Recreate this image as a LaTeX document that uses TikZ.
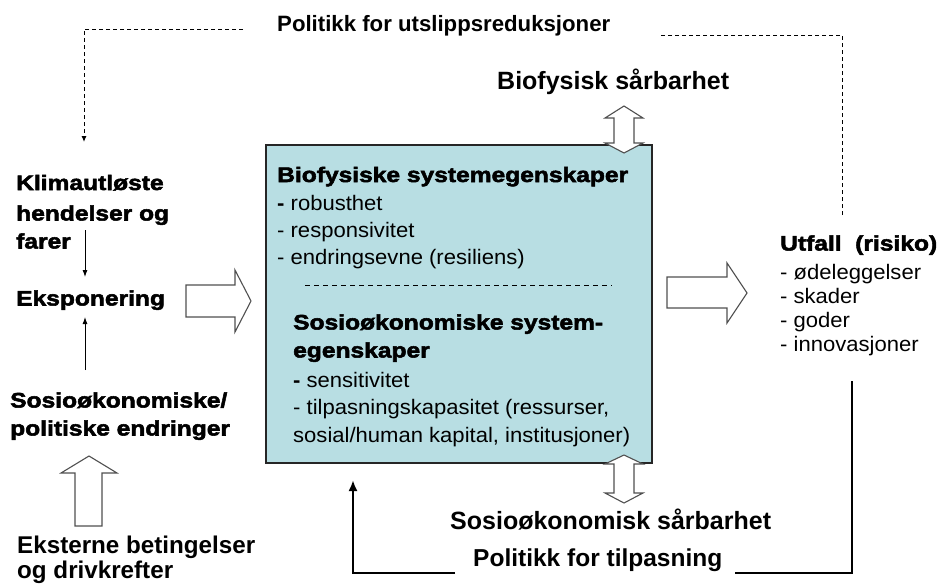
\documentclass[tikz,border=0pt]{standalone}
\usepackage{fontspec}
\setmainfont{Liberation Sans}
\newfontfamily\heavyfont{Liberation Sans}[UprightFont={* Bold},FakeStretch=1.17,FakeBold=2.5]
\newfontfamily\boldfont{Liberation Sans}[UprightFont={* Bold}]
\newfontfamily\bodyfont{Liberation Sans}[FakeStretch=1.05]
\usetikzlibrary{arrows.meta}
\definecolor{boxfill}{RGB}{184,222,227}
\definecolor{blockline}{RGB}{80,80,80}

\tikzset{
  heavy/.style={anchor=base west, inner sep=0pt, font=\heavyfont\fontsize{21}{25}\selectfont},
  boldlabel/.style={anchor=base west, inner sep=0pt, font=\boldfont\fontsize{#1}{28}\selectfont},
  boldlabel/.default=25,
  body/.style={anchor=base west, inner sep=0pt, font=\bodyfont\fontsize{21}{25}\selectfont},
  block/.style={draw=blockline, fill=white, line width=1.1pt, line join=miter},
  thinarrow/.style={draw=black, line width=0.9pt, -{Latex[length=7pt,width=5pt]}},
  policy/.style={draw=black, line width=1pt, dash pattern=on 4pt off 3pt},
  feedback/.style={draw=black, line width=2.6pt},
}

\begin{document}
\begin{tikzpicture}[x=1pt,y=-1pt]
\useasboundingbox (0,0) rectangle (941,584);

% central box with the system properties
\draw[fill=boxfill, draw=black!85, line width=1.3pt] (266,145) rectangle (652,463);
\node[heavy] (bioh) at (277,182) {Biofysiske systemegenskaper};
\node[body] (bio1) at (277,210) {{\bfseries -} robusthet};
\node[body] (bio2) at (277,237) {- responsivitet};
\node[body] (bio3) at (277,264) {- endringsevne (resiliens)};
\draw[dash pattern=on 5pt off 4pt, line width=0.9pt] (305,285) -- (612,285);
\node[heavy] (sosh1) at (293,329.5) {Sosioøkonomiske system-};
\node[heavy] (sosh2) at (293,357.5) {egenskaper};
\node[body] (sos1) at (293,387) {{\bfseries -} sensitivitet};
\node[body] (sos2) at (293,414) {- tilpasningskapasitet (ressurser,};
\node[body] (sos3) at (293,442) {sosial/human kapital, institusjoner)};

% left column
\node[heavy] (klim1) at (16,190) {Klimautløste};
\node[heavy] (klim2) at (16,220.5) {hendelser og};
\node[heavy] (klim3) at (16,248.5) {farer};
\node[heavy] (expo) at (16,305.5) {Eksponering};
\node[heavy] (soc1) at (10,407.5) {Sosioøkonomiske/};
\node[heavy] (soc2) at (10,435.5) {politiske endringer};
\node[boldlabel=24.2] (ext1) at (17,553) {Eksterne betingelser};
\node[boldlabel=24.2] (ext2) at (17,578) {og drivkrefter};

\coordinate (klim-out) at (85,230);
\coordinate (expo-top) at (85,277);
\coordinate (soc-out) at (85,370);
\coordinate (expo-bot) at (85,317);
\draw[thinarrow] (klim-out) -- (expo-top);
\draw[thinarrow] (soc-out) -- (expo-bot);

% block arrows
\draw[block] (186,285) -- (235,285) -- (235,270) -- (251,301) -- (235,332)
  -- (235,317) -- (186,317) -- cycle;
\draw[block] (667,277) -- (727,277) -- (727,263) -- (747,293) -- (727,323)
  -- (727,308) -- (667,308) -- cycle;
\draw[block] (75,526) -- (75,473) -- (61,473) -- (89,456) -- (117,473)
  -- (102,473) -- (102,526) -- cycle;

% double arrows to the vulnerability labels
\draw[block] (624,106) -- (643,118) -- (634,118) -- (634,143) -- (643,143)
  -- (624,153) -- (605,143) -- (614,143) -- (614,118) -- (605,118) -- cycle;
\draw[block] (624,455) -- (643,464) -- (634,464) -- (634,493) -- (643,493)
  -- (624,503) -- (605,493) -- (614,493) -- (614,464) -- (605,464) -- cycle;
\node[boldlabel] (biovul) at (497,89) {Biofysisk sårbarhet};
\node[boldlabel] (sosvul) at (450,529) {Sosioøkonomisk sårbarhet};

% outcome
\node[heavy] (utf) at (780,250.5) {Utfall\ \ (risiko)};
\node[body] (utf1) at (780,279) {- ødeleggelser};
\node[body] (utf2) at (780,303) {- skader};
\node[body] (utf3) at (780,327) {- goder};
\node[body] (utf4) at (780,351) {- innovasjoner};

% mitigation policy loop (dashed)
\node[boldlabel=22.2] (mitig) at (277,31) {Politikk for utslippsreduksjoner};
\coordinate (mit-l) at (243,29);
\coordinate (mit-lc) at (84,29);
\coordinate (mit-end) at (84,142);
\coordinate (mit-r) at (660,35);
\coordinate (mit-rc) at (842,35);
\coordinate (mit-start) at (842,215);
\draw[policy] (mit-start) -- (mit-rc) -- (mit-r);
\draw[policy, -{Latex[length=6pt,width=5pt]}] (mit-l) -- (mit-lc) -- (mit-end);

% adaptation policy loop (solid)
\node[boldlabel=24.5] (adapt) at (473,566) {Politikk for tilpasning};
\coordinate (ad-start) at (852,381);
\coordinate (ad-rc) at (852,573);
\coordinate (ad-r) at (735,573);
\coordinate (ad-l) at (455,573);
\coordinate (ad-lc) at (353,573);
\coordinate (ad-end) at (353,480);
\draw[feedback] (ad-start) -- (ad-rc) -- (ad-r);
\draw[feedback, -{Latex[length=11pt,width=9pt]}] (ad-l) -- (ad-lc) -- (ad-end);
\end{tikzpicture}
\end{document}
